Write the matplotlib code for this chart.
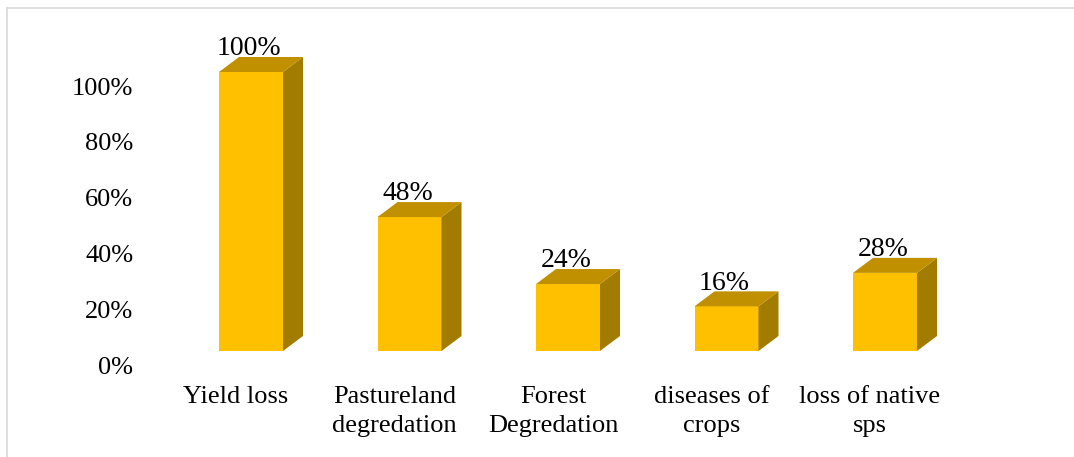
import matplotlib
matplotlib.use("Agg")
import matplotlib.pyplot as plt
from matplotlib.patches import Polygon, Rectangle
from matplotlib.transforms import ScaledTranslation
from matplotlib.lines import Line2D

categories = ["Yield loss", "Pastureland\ndegredation", "Forest\nDegredation",
              "diseases of\ncrops", "loss of native\nsps"]
values = [100, 48, 24, 16, 28]
value_labels = ["100%", "48%", "24%", "16%", "28%"]
yticks = [0, 20, 40, 60, 80, 100]
ytick_labels = ["0%", "20%", "40%", "60%", "80%", "100%"]

plt.rcParams['font.family'] = ['Liberation Serif', 'DejaVu Serif']

W, H = 1074, 457
fig = plt.figure(figsize=(W / 100, H / 100), dpi=100)
# axes in pixel geometry
x_left = 156.75
x_w = 792.5
y_bot = 351
y_top = 72
ax = fig.add_axes([x_left / W, (H - y_bot) / H, x_w / W, (y_bot - y_top) / H])
ax.set_xlim(-0.5, 4.5)
ax.set_ylim(0, 100)
for s in ax.spines.values():
    s.set_visible(False)

px_per_x = x_w / 5.0
px_per_y = (y_bot - y_top) / 100.0
bar_w = 64 / px_per_x
bar_shift = 15 / px_per_x
dx = 20 / px_per_x
dy = 15 / px_per_y

front_c = "#FFC000"
top_c = "#C09000"
side_c = "#A27C00"

for i, v in enumerate(values):
    x0 = i + bar_shift - bar_w / 2
    x1 = x0 + bar_w
    ax.add_patch(Rectangle((x0, 0), bar_w, v, facecolor=front_c, edgecolor='none',
                           clip_on=False, zorder=3))
    ax.add_patch(Polygon([(x1, 0), (x1 + dx, dy), (x1 + dx, v + dy), (x1, v)],
                         closed=True, facecolor=side_c, edgecolor='none',
                         clip_on=False, zorder=3))
    ax.add_patch(Polygon([(x0, v), (x0 + dx, v + dy), (x1 + dx, v + dy), (x1, v)],
                         closed=True, facecolor=top_c, edgecolor='none',
                         clip_on=False, zorder=3))
    ax.text(i + bar_shift - 2 / px_per_x, v + dy + 0.6, value_labels[i],
            ha='center', va='baseline', fontsize=20, color='black', zorder=4,
            clip_on=False)

ax.set_yticks(yticks)
ax.set_yticklabels(ytick_labels)
ax.set_xticks(range(len(categories)))
ax.set_xticklabels(categories, linespacing=1.4)
ax.tick_params(axis='y', length=0, pad=17, labelsize=19)
ax.tick_params(axis='x', length=0, pad=25, labelsize=19)
off = ScaledTranslation(0, -14 / 100, fig.dpi_scale_trans)
for lab in ax.get_yticklabels():
    lab.set_transform(lab.get_transform() + off)

# outer border lines (top and left)
fig.add_artist(Line2D([7 / W, 1], [1 - 7.5 / H, 1 - 7.5 / H], color="#D9D9D9",
                      lw=1.2, transform=fig.transFigure))
fig.add_artist(Line2D([7.5 / W, 7.5 / W], [0, 1 - 7.5 / H], color="#D9D9D9",
                      lw=1.2, transform=fig.transFigure))

fig.savefig("out.png", dpi=100)
